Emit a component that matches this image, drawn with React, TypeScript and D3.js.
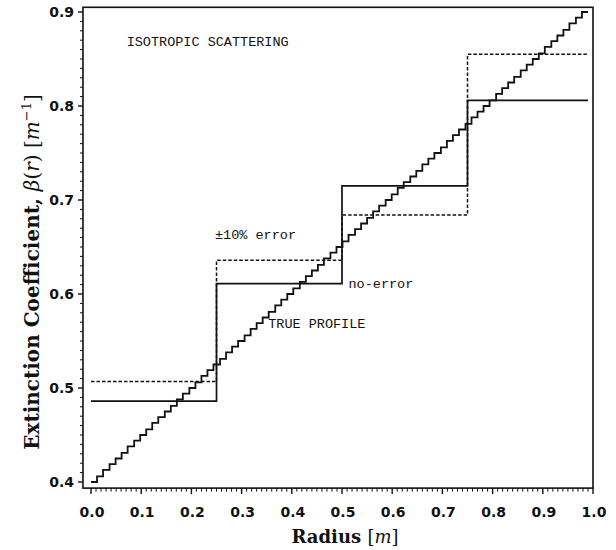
import * as d3 from 'd3'

// True profile: piecewise constant levels and the radius where each level starts
const trueLevels = [
  0.400, 0.406, 0.413, 0.419, 0.425, 0.431, 0.438, 0.444, 0.450, 0.456, 0.463, 0.469, 0.475, 0.481, 0.488, 0.494,
  0.500, 0.506, 0.513, 0.519, 0.525, 0.531, 0.538, 0.544, 0.550, 0.556, 0.563, 0.569, 0.575, 0.581, 0.588, 0.594,
  0.600, 0.606, 0.613, 0.619, 0.625, 0.631, 0.638, 0.644, 0.650, 0.656, 0.663, 0.669, 0.675, 0.681, 0.688, 0.694,
  0.700, 0.706, 0.713, 0.719, 0.725, 0.731, 0.738, 0.744, 0.750, 0.756, 0.763, 0.769, 0.775, 0.781, 0.788, 0.794,
  0.800, 0.806, 0.813, 0.819, 0.825, 0.831, 0.838, 0.844, 0.850, 0.856, 0.863, 0.869, 0.875, 0.881, 0.888, 0.894,
  0.900
]
const trueStarts = [
  0.000, 0.012, 0.024, 0.037, 0.049, 0.061, 0.073, 0.086, 0.098, 0.110, 0.122, 0.134, 0.147, 0.159, 0.171, 0.183,
  0.196, 0.208, 0.220, 0.232, 0.244, 0.257, 0.269, 0.281, 0.293, 0.306, 0.318, 0.330, 0.342, 0.354, 0.367, 0.379,
  0.391, 0.403, 0.416, 0.428, 0.440, 0.452, 0.464, 0.477, 0.489, 0.501, 0.513, 0.526, 0.538, 0.550, 0.562, 0.574,
  0.587, 0.599, 0.611, 0.623, 0.636, 0.648, 0.660, 0.672, 0.684, 0.697, 0.709, 0.721, 0.733, 0.746, 0.758, 0.770,
  0.782, 0.794, 0.807, 0.819, 0.831, 0.843, 0.856, 0.868, 0.880, 0.892, 0.904, 0.917, 0.929, 0.941, 0.953, 0.966,
  0.978
]
const profileEnd = 0.99

// Reconstructed profiles over four regions
const regionEdges = [0, 0.25, 0.5, 0.75, 0.99]
const noError = [0.486, 0.611, 0.715, 0.806]
const withError = [0.507, 0.636, 0.684, 0.855]

const xTicks = [0, 0.1, 0.2, 0.3, 0.4, 0.5, 0.6, 0.7, 0.8, 0.9, 1.0]
const yTicks = [0.4, 0.5, 0.6, 0.7, 0.8, 0.9]

const annotations = [
  { text: 'ISOTROPIC SCATTERING', r: 0.071, b: 0.864 },
  { text: '±10% error', r: 0.247, b: 0.659 },
  { text: 'no-error', r: 0.513, b: 0.606 },
  { text: 'TRUE PROFILE', r: 0.353, b: 0.564 }
]

const W = 616
const H = 550

export default function App() {
  const x = d3.scaleLinear().domain([0, 1]).range([91, 593])
  const y = d3.scaleLinear().domain([0.4, 0.9]).range([482, 12])

  const left = x(-0.016)
  const right = x(1.0)
  const top = y(0.905)
  const bottom = y(0.3935)

  const stepLine = d3.line<[number, number]>()
    .x(d => x(d[0]))
    .y(d => y(d[1]))
    .curve(d3.curveStepAfter)

  const truePts: [number, number][] = trueLevels.map((v, i) => [trueStarts[i], v])
  truePts.push([profileEnd, trueLevels[trueLevels.length - 1]])

  const regionPts = (vals: number[]): [number, number][] => {
    const pts: [number, number][] = vals.map((v, i) => [regionEdges[i], v])
    pts.push([regionEdges[regionEdges.length - 1], vals[vals.length - 1]])
    return pts
  }

  const minorX = d3.range(0, 101).map(i => i / 100).filter(v => Math.round(v * 100) % 10 !== 0)
  const minorY = d3.range(40, 91).map(i => i / 100).filter(v => Math.round(v * 100) % 10 !== 0)

  const tickFont = '"DejaVu Sans", Verdana, sans-serif'
  const titleFont = '"DejaVu Serif", "Liberation Serif", serif'
  const monoFont = '"Liberation Mono", "Courier New", monospace'

  return (
    <svg width={W} height={H} style={{ position: 'absolute', left: 0, top: 0, background: '#fff' }}>
      <rect width={W} height={H} fill="#fff" />

      {/* frame */}
      <rect x={left} y={top} width={right - left} height={bottom - top} fill="none" stroke="#111" strokeWidth={1.6} />

      {/* x ticks */}
      {minorX.map(v => (
        <line key={`mx${v}`} x1={x(v)} x2={x(v)} y1={bottom} y2={bottom + 3.5} stroke="#111" strokeWidth={1} />
      ))}
      {xTicks.map(v => (
        <g key={`x${v}`}>
          <line x1={x(v)} x2={x(v)} y1={bottom} y2={bottom + 6} stroke="#111" strokeWidth={1.4} />
          <text x={x(v) + 1} y={517} textAnchor="middle" fontFamily={tickFont} fontWeight="bold" fontSize={14} fill="#111">
            {v.toFixed(1)}
          </text>
        </g>
      ))}

      {/* y ticks */}
      {minorY.map(v => (
        <line key={`my${v}`} x1={left - 3} x2={left} y1={y(v)} y2={y(v)} stroke="#111" strokeWidth={1} />
      ))}
      {yTicks.map(v => (
        <g key={`y${v}`}>
          <line x1={left - 5} x2={left} y1={y(v)} y2={y(v)} stroke="#111" strokeWidth={1.4} />
          <text x={left - 9} y={y(v) + 5} textAnchor="end" fontFamily={tickFont} fontWeight="bold" fontSize={14} fill="#111">
            {v.toFixed(1)}
          </text>
        </g>
      ))}

      {/* profiles */}
      <path d={stepLine(truePts) ?? ''} fill="none" stroke="#111" strokeWidth={1.8} />
      <path d={stepLine(regionPts(withError)) ?? ''} fill="none" stroke="#111" strokeWidth={1.5} strokeDasharray="3.5,2" />
      <path d={stepLine(regionPts(noError)) ?? ''} fill="none" stroke="#111" strokeWidth={1.7} />

      {/* annotations */}
      {annotations.map(a => (
        <text key={a.text} x={x(a.r)} y={y(a.b)} fontFamily={monoFont} fontSize={13.5} fill="#111">
          {a.text}
        </text>
      ))}

      {/* axis titles */}
      <text x={345} y={543} textAnchor="middle" fontFamily={titleFont} fontWeight="bold" fontSize={18} fill="#111">
        Radius <tspan fontWeight="normal">[</tspan><tspan fontStyle="italic" fontWeight="normal">m</tspan><tspan fontWeight="normal">]</tspan>
      </text>
      <text transform="translate(39,272) rotate(-90)" textAnchor="middle" fontFamily={titleFont} fontWeight="bold" fontSize={20} fill="#111">
        Extinction Coefficient, <tspan fontStyle="italic" fontWeight="normal">β</tspan><tspan fontWeight="normal">(</tspan><tspan fontStyle="italic" fontWeight="normal">r</tspan><tspan fontWeight="normal">) [</tspan><tspan fontStyle="italic" fontWeight="normal">m</tspan><tspan fontWeight="normal" fontSize={13} dy={-8}>−1</tspan><tspan fontWeight="normal" dy={8}>]</tspan>
      </text>
    </svg>
  )
}
